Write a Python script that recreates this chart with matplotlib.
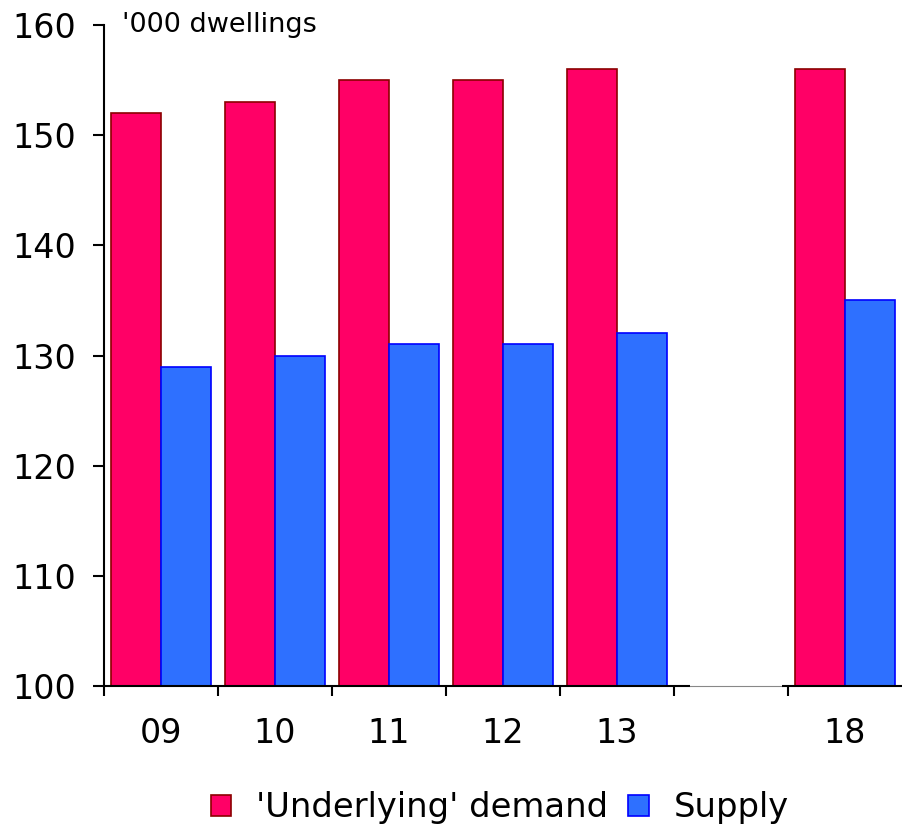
import numpy as np
import matplotlib
matplotlib.use("Agg")
import matplotlib.pyplot as plt
from matplotlib.patches import Patch

# Dwellings ('000): underlying demand vs supply, by year
categories = ["09", "10", "11", "12", "13", "", "18"]
demand = [152, 153, 155, 155, 156, np.nan, 156]
supply = [129, 130, 131, 131, 132, np.nan, 135]
series_names = ["'Underlying' demand", "Supply"]
y_ticks = [100, 110, 120, 130, 140, 150, 160]

red_face, red_edge = "#FF0066", "#8B0000"
blue_face, blue_edge = "#2E70FF", "#0000FF"

plt.rcParams["font.family"] = ["DejaVu Sans"]

fig = plt.figure(figsize=(9.02, 8.27), dpi=100)
ax = fig.add_axes([104 / 902, 141 / 827, 798 / 902, 661 / 827])

slots = np.arange(len(categories))
centers = slots + 0.5
w = 0.44
ax.bar(centers - w / 2, demand, width=w, bottom=0, color=red_face,
       edgecolor=red_edge, linewidth=1.2, zorder=2)
ax.bar(centers + w / 2, supply, width=w, bottom=0, color=blue_face,
       edgecolor=blue_edge, linewidth=1.2, zorder=2)

ax.set_ylim(100, 160)
ax.set_xlim(0, 7.0)
ax.set_yticks(y_ticks)
ax.tick_params(axis="y", direction="out", length=8, width=1.5,
               labelsize=24, pad=12)

# category boundaries carry ticks, category centres carry labels
ax.set_xticks(slots)
ax.set_xticklabels([])
ax.tick_params(axis="x", which="major", direction="out", length=7,
               width=1.5)
ax.set_xticks(centers, minor=True)
ax.set_xticklabels(categories, minor=True)
ax.tick_params(axis="x", which="minor", length=0, labelsize=24, pad=22)

for s in ["top", "right", "bottom"]:
    ax.spines[s].set_visible(False)
ax.spines["left"].set_linewidth(1.5)

# baseline broken across the empty period
gap_start, gap_end = 5.14, 5.95
ax.plot([0, gap_start], [100, 100], color="black", lw=1.5,
        clip_on=False, zorder=3, solid_capstyle="butt")
ax.plot([gap_start, gap_end], [100, 100], color="#888888", lw=0.8,
        clip_on=False, zorder=3)
ax.plot([gap_end, ax.get_xlim()[1]], [100, 100], color="black", lw=1.5,
        clip_on=False, zorder=3, solid_capstyle="butt")

ax.text(18 / 798, 1.0, "'000 dwellings", transform=ax.transAxes,
        fontsize=19.5, va="center", ha="left")

handles = [Patch(facecolor=red_face, edgecolor=red_edge, linewidth=1.2),
           Patch(facecolor=blue_face, edgecolor=blue_edge, linewidth=1.2)]
fig.legend(handles, series_names, loc="center", bbox_to_anchor=(0.554, 0.023),
           ncol=2, frameon=False, fontsize=24.3, handlelength=0.6,
           handleheight=0.6, handletextpad=0.74, columnspacing=0.6,
           borderpad=0, borderaxespad=0)

fig.savefig("out.png", dpi=100)
